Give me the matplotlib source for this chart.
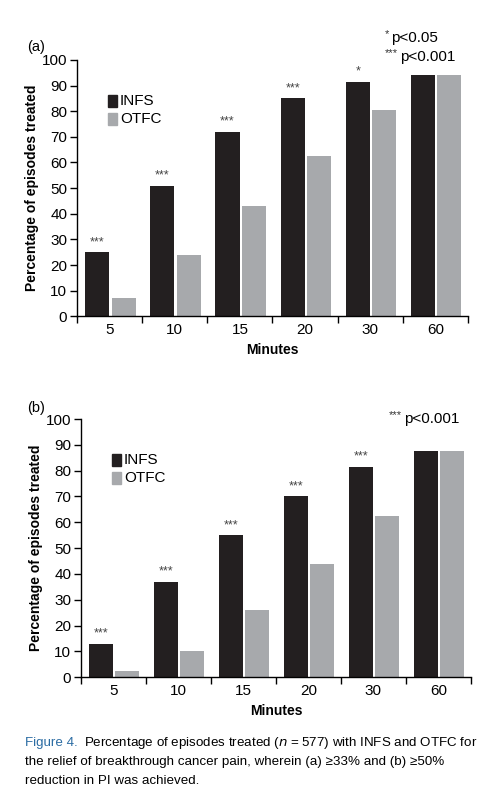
import matplotlib
matplotlib.use("Agg")
import matplotlib.pyplot as plt
from matplotlib.patches import Rectangle

plt.rcParams["font.family"] = ["Liberation Sans", "DejaVu Sans"]

minutes = ["5", "10", "15", "20", "30", "60"]

# panel (a): >=33% reduction
infs_a = [25, 51, 72, 85, 91.5, 94]
otfc_a = [7, 24, 43, 62.5, 80.5, 94]
stars_a = ["***", "***", "***", "***", "*", ""]

# panel (b): >=50% reduction
infs_b = [13, 37, 55, 70, 81.5, 87.5]
otfc_b = [2.5, 10, 26, 44, 62.5, 87.5]
stars_b = ["***", "***", "***", "***", "***", ""]

BLACK = "#231f20"
GREY = "#a7a9ac"
W = 0.37


def panel(ax, infs, otfc, stars):
    xs = [i + 0.5 for i in range(len(minutes))]
    ax.bar([x - 0.19 for x in xs], infs, width=W, color=BLACK)
    ax.bar([x + 0.215 for x in xs], otfc, width=W, color=GREY)
    for x, h, s in zip(xs, infs, stars):
        if s:
            ax.text(x - 0.19, h + 1.5, s, ha="center", va="bottom",
                    fontsize=9, color="#444444")
    ax.set_xlim(0, 6)
    ax.set_ylim(0, 100)
    ax.set_yticks(range(0, 101, 10))
    ax.set_xticks(range(0, 7))
    ax.set_xticklabels([])
    ax.set_xticks(xs, minor=True)
    ax.set_xticklabels(minutes, minor=True)
    ax.tick_params(axis="x", which="minor", length=0, labelsize=11, pad=5)
    ax.tick_params(axis="x", which="major", length=5, width=1)
    ax.tick_params(axis="y", length=5, width=1, labelsize=11, pad=2)
    for sp in ("top", "right"):
        ax.spines[sp].set_visible(False)
    for sp in ("left", "bottom"):
        ax.spines[sp].set_linewidth(1)
    ax.set_xlabel("Minutes", fontweight="bold", fontsize=10, labelpad=4)
    ax.set_ylabel("Percentage of episodes treated", fontweight="bold",
                  fontsize=10, labelpad=2)
    # legend
    for yy, c, lab in ((84, BLACK, "INFS"), (77, GREY, "OTFC")):
        ax.add_patch(Rectangle((0.47, yy - 2.3), 0.14, 4.6, color=c,
                               clip_on=False))
        ax.text(0.66, yy, lab, va="center", ha="left", fontsize=11)


def pnote(x, y, stars, label):
    # superscript stars followed by the p-value text
    fig.text(x / 494, 1 - (y - 4) / 809, stars, fontsize=8, va="center",
             ha="left", color="#333333")
    fig.text((x + 4.6 * len(stars) + 1) / 494, 1 - y / 809, label,
             fontsize=11, va="center", ha="left")


fig = plt.figure(figsize=(4.94, 8.09), dpi=100)
ax_a = fig.add_axes([0.156, 0.609, 0.791, 0.317])
ax_b = fig.add_axes([0.164, 0.163, 0.789, 0.319])
panel(ax_a, infs_a, otfc_a, stars_a)
panel(ax_b, infs_b, otfc_b, stars_b)

fig.text(27 / 494, 1 - 47 / 809, "(a)", fontsize=10.5, va="center")
fig.text(27 / 494, 1 - 408 / 809, "(b)", fontsize=10.5, va="center")

pnote(385, 38, "*", "p<0.05")
pnote(385, 57, "***", "p<0.001")
pnote(389, 419, "***", "p<0.001")

CAP = 9.6
fig.text(25 / 494, 1 - 743 / 809, "Figure 4.", color="#2b6ca3", fontsize=CAP,
         va="center", ha="left")
fig.text(84 / 494, 1 - 743 / 809,
         "Percentage of episodes treated ($n$ = 577) with INFS and OTFC for",
         fontsize=CAP, va="center", ha="left")
fig.text(25 / 494, 1 - 762 / 809,
         "the relief of breakthrough cancer pain, wherein (a) \u226533% and (b) \u226550%",
         fontsize=CAP, va="center", ha="left")
fig.text(25 / 494, 1 - 781 / 809, "reduction in PI was achieved.",
         fontsize=CAP, va="center", ha="left")

fig.savefig("out.png", dpi=100)
